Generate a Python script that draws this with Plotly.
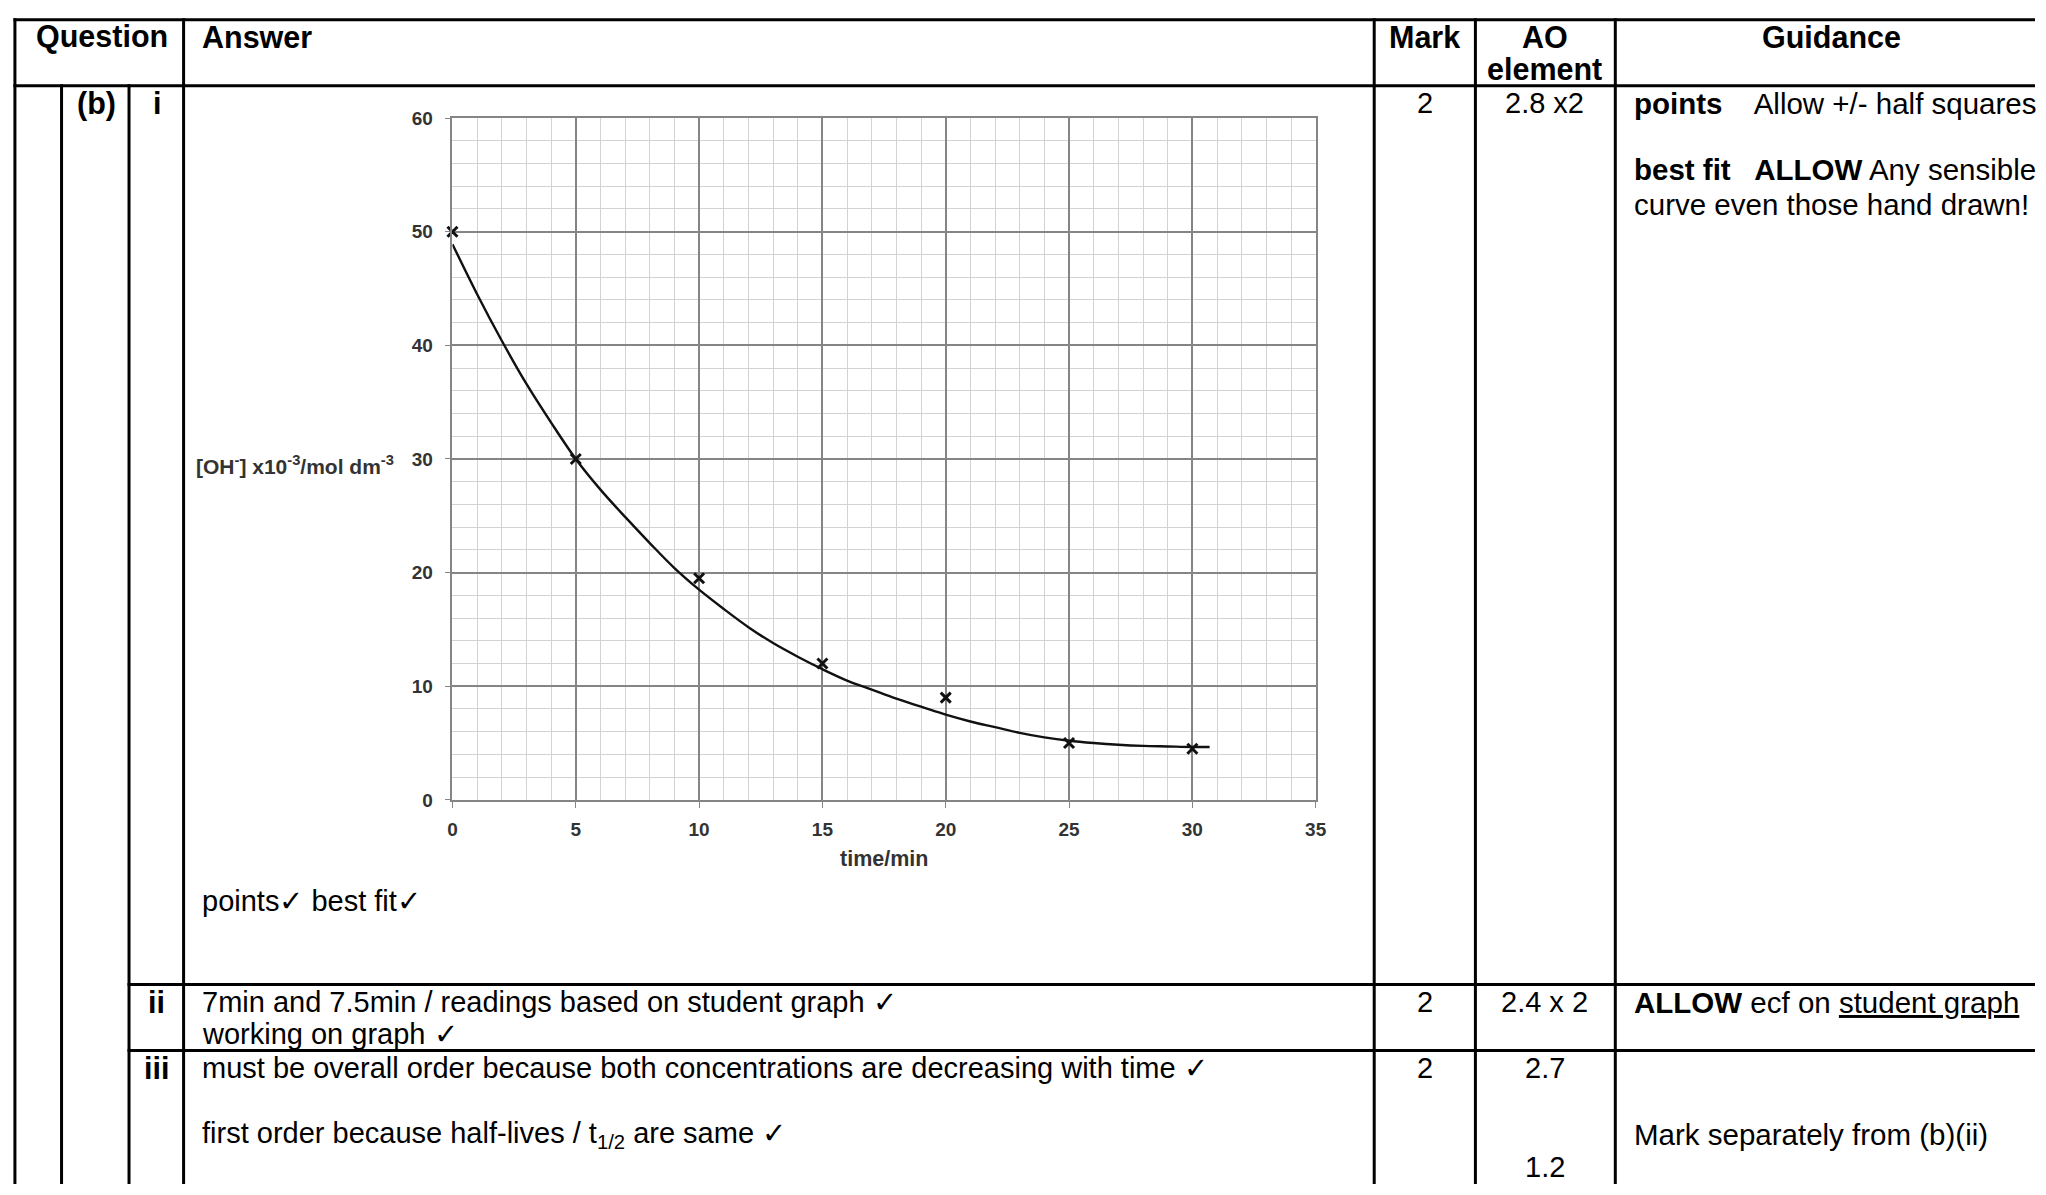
import plotly.graph_objects as go

# canvas (reference pixels)
W, H = 2046, 1195

# ---- data ----
times = [0, 5, 10, 15, 20, 25, 30]
oh_conc = [50, 30, 19.5, 12, 9, 5, 4.5]

fit_time = [0, 1, 2, 3, 4, 5, 6, 7, 8, 9, 10, 11, 12, 13, 14, 15, 16, 17, 18, 19,
            20, 21, 22, 23, 24, 25, 26, 27, 28, 29, 30, 30.7]
fit_conc = [48.9, 44.5, 40.4, 36.6, 33.2, 30.0, 27.3, 24.9, 22.6, 20.4, 18.5, 16.8,
            15.2, 13.8, 12.6, 11.5, 10.5, 9.7, 8.9, 8.2, 7.5, 6.9, 6.4, 5.9, 5.5,
            5.2, 5.0, 4.85, 4.75, 4.7, 4.65, 4.65]

x_ticks = [0, 5, 10, 15, 20, 25, 30, 35]
y_ticks = [0, 10, 20, 30, 40, 50, 60]

FONT = "Liberation Sans, Arial, sans-serif"


def fx(px):
    return px / W


def fy(py):
    return 1 - py / H


fig = go.Figure()

fig.add_trace(go.Scatter(
    x=fit_time, y=fit_conc, mode="lines",
    line=dict(color="#111111", width=2.4, shape="spline"),
    showlegend=False, hoverinfo="skip", cliponaxis=False))
fig.add_trace(go.Scatter(
    x=times, y=oh_conc, mode="markers", cliponaxis=False,
    marker=dict(symbol="x-thin", size=10, line=dict(color="#111111", width=3)),
    showlegend=False))

grid_major = "#858585"
grid_minor = "#d3d3d3"
tick_font = dict(family=FONT, size=19, color="#333333", weight="bold")

fig.update_xaxes(
    range=[0, 35], domain=[fx(451), fx(1321)], tickvals=x_ticks,
    showgrid=True, gridcolor=grid_major, gridwidth=1.6,
    minor=dict(dtick=1, showgrid=True, gridcolor=grid_minor, gridwidth=1),
    showline=True, linecolor=grid_major, linewidth=1.6, mirror=True,
    ticks="outside", ticklen=6, tickcolor=grid_major, ticklabelstandoff=6,
    tickfont=tick_font, zeroline=False, fixedrange=True)
fig.update_yaxes(
    range=[0, 60], domain=[fy(804), fy(110)], tickvals=y_ticks,
    showgrid=True, gridcolor=grid_major, gridwidth=1.6,
    minor=dict(dtick=2, showgrid=True, gridcolor=grid_minor, gridwidth=1),
    showline=True, linecolor=grid_major, linewidth=1.6, mirror=True,
    ticks="outside", ticklen=6, tickcolor=grid_major, ticklabelstandoff=8,
    tickfont=tick_font, zeroline=False, fixedrange=True)

# ---- table lines ----
LW = 3
h_lines = [(10, 10, W), (77, 10, W), (992, 125, W), (1059, 125, W)]
v_lines = [(10, 10, H), (57, 77, H), (125, 77, H), (180, 10, H),
           (1380, 10, H), (1482, 10, H), (1623, 10, H)]
shapes = []
for y, x0, x1 in h_lines:
    shapes.append(dict(type="line", xref="paper", yref="paper",
                       x0=fx(x0 - 1.5), x1=fx(x1), y0=fy(y), y1=fy(y),
                       line=dict(color="black", width=LW)))
for x, y0, y1 in v_lines:
    shapes.append(dict(type="line", xref="paper", yref="paper",
                       x0=fx(x), x1=fx(x), y0=fy(y0 - 1.5), y1=fy(y1),
                       line=dict(color="black", width=LW)))

# ---- texts ----
annotations = []


def txt(s, x, y, size=29, anchor="left", bold=False, family=FONT, color="black"):
    annotations.append(dict(
        text=s, x=fx(x), y=fy(y), xref="paper", yref="paper",
        xanchor=anchor, yanchor="middle", showarrow=False,
        font=dict(family=family, size=size, color=color,
                  weight="bold" if bold else "normal")))


HB = 30.5
BS = 29
GS = 29.5
# header
txt("Question", 98, 27, HB, "center", True)
txt("Answer", 197, 27, HB, "left", True)
txt("Mark", 1431, 27, HB, "center", True)
txt("AO", 1552, 27, HB, "center", True)
txt("element", 1552, 60, HB, "center", True)
txt("Guidance", 1841, 27, HB, "center", True)

# row (b) i
txt("(b)", 92, 95, HB, "center", True)
txt("i", 153, 95, HB, "center", True)
txt("2", 1431, 95, BS, "center")
txt("2.8 x2", 1552, 95, BS, "center")
txt("<b>points</b>    Allow +/- half squares", 1640, 95, GS)
txt("<b>best fit   ALLOW</b> Any sensible", 1640, 162, GS)
txt("curve even those hand drawn!", 1640, 198, GS)
txt("points\u2713 best fit\u2713", 197, 907, BS)

# chart axis titles
txt("[OH<sup>-</sup>] x10<sup>-3</sup>/mol dm<sup>-3</sup>", 394, 463, 21, "right", True,
    FONT, "#333333")
txt("time/min", 886, 864, 21.5, "center", True, FONT, "#333333")

# row ii
txt("ii", 153, 1010, HB, "center", True)
txt("7min and 7.5min / readings based on student graph \u2713", 197, 1010, BS)
txt("working on graph \u2713", 197, 1042, BS)
txt("2", 1431, 1010, BS, "center")
txt("2.4 x 2", 1552, 1010, BS, "center")
txt("<b>ALLOW</b> ecf on <u>student graph</u>", 1640, 1010, GS)

# row iii
txt("iii", 153, 1077, HB, "center", True)
txt("must be overall order because both concentrations are decreasing with time \u2713",
    197, 1077, BS)
txt("first order because half-lives / t<sub>1/2</sub> are same \u2713", 197, 1145, BS)
txt("2", 1431, 1077, BS, "center")
txt("2.7", 1552, 1077, BS, "center")
txt("1.2", 1552, 1178, BS, "center")
txt("Mark separately from (b)(ii)", 1640, 1145, GS)

fig.update_layout(
    width=W, height=H, margin=dict(l=0, r=0, t=0, b=0, pad=0),
    paper_bgcolor="white", plot_bgcolor="white",
    shapes=shapes, annotations=annotations, showlegend=False)

fig.write_html("out.html", config={"displayModeBar": False},
               post_script="document.body.style.margin='0';document.body.style.overflow='hidden';")
